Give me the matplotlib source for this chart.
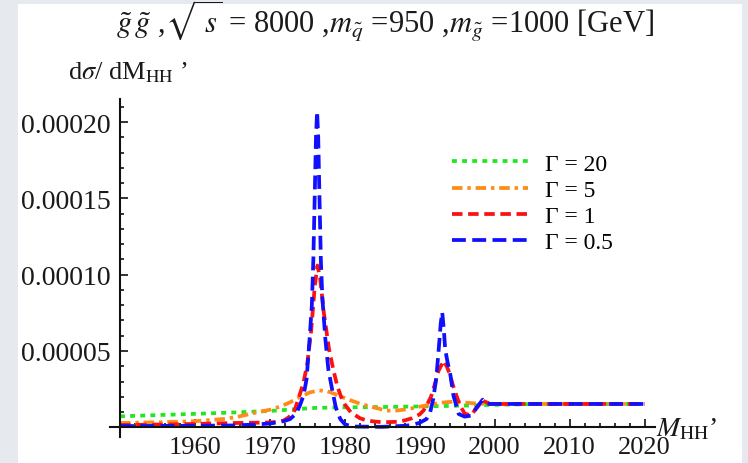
import matplotlib
matplotlib.use('Agg')
import matplotlib.pyplot as plt
from matplotlib.patches import Rectangle
from matplotlib.ticker import FixedLocator, FixedFormatter

plt.rcParams['font.family'] = ['Liberation Serif', 'DejaVu Serif']
plt.rcParams['mathtext.fontset'] = 'stix'

SCALE = 1e-5

# Gamma = 20 (green, dotted)
green_x = [1950, 1955, 1960, 1965, 1970, 1973, 1976, 1980, 1985, 1990, 1995, 2000, 2005, 2020]
green_y = [0.72, 0.80, 0.88, 0.97, 1.07, 1.17, 1.27, 1.31, 1.33, 1.37, 1.41, 1.47, 1.52, 1.53]

# Gamma = 5 (orange, dash-dot)
orange_x = [1950, 1955, 1960, 1964, 1966, 1968, 1970, 1971.5, 1972.7, 1974, 1975.3, 1976.5,
            1977.7, 1979, 1980.3, 1982, 1983.8, 1985.6, 1987, 1988.5, 1990, 1991.5, 1993,
            1994.5, 1996, 1997.5, 1999, 2020]
orange_y = [0.28, 0.33, 0.40, 0.55, 0.72, 0.95, 1.15, 1.38, 1.64, 1.98, 2.28, 2.42,
            2.36, 2.12, 1.85, 1.55, 1.31, 1.09, 1.10, 1.20, 1.35, 1.50, 1.62,
            1.68, 1.62, 1.56, 1.53, 1.53]

# Gamma = 1 (red, dashed)
red_x = [1950, 1955, 1960, 1965, 1968, 1970, 1971, 1971.8, 1972.5, 1973.2, 1973.8, 1974.5,
         1975, 1975.5, 1976, 1976.35, 1976.7, 1977.2, 1977.9, 1978.5, 1979, 1979.5, 1980,
         1980.8, 1982, 1983, 1985, 1987, 1988, 1989, 1990, 1990.5, 1991, 1991.5, 1992,
         1992.5, 1993.2, 1993.6, 1994, 1994.4, 1994.9, 1995.4, 1996, 1996.8, 1997.5,
         1998.4, 1999.4, 2020]
red_y = [0.15, 0.18, 0.22, 0.28, 0.30, 0.32, 0.36, 0.43, 0.65, 0.98, 1.85, 2.95,
         4.2, 6.3, 9.3, 10.6, 9.8, 7.5, 5.1, 3.7, 2.7, 2.0, 1.5,
         0.98, 0.60, 0.43, 0.33, 0.36, 0.45, 0.60, 0.85, 1.10, 1.50, 2.00, 2.80,
         3.70, 4.36, 4.00, 3.50, 2.80, 2.07, 1.40, 0.90, 0.78, 1.20,
         1.75, 1.53, 1.53]

# Gamma = 0.5 (blue, long dashed)
blue_x = [1950, 1960, 1965, 1968, 1970, 1971, 1972, 1972.7, 1973.5, 1974, 1974.5, 1974.9,
          1975.3, 1975.6, 1975.8, 1976.0, 1976.15, 1976.3, 1976.45, 1976.6, 1976.8, 1977.0,
          1977.4, 1977.8, 1978.3, 1978.8, 1979.4, 1980, 1981, 1985, 1988, 1989, 1990,
          1990.9, 1991.4, 1991.8, 1992.2, 1992.5, 1992.8, 1993.0, 1993.2, 1993.4, 1993.7,
          1994.1, 1994.5, 1995.2, 1996.0, 1996.8, 1997.6, 1998.4, 1999.0, 1999.4, 2020]
blue_y = [0.08, 0.10, 0.12, 0.18, 0.25, 0.32, 0.42, 0.54, 0.90, 1.42, 2.10, 3.17,
          5.8, 8.0, 11.0, 15.5, 19.0, 20.7, 19.0, 15.5, 11.0, 8.5,
          5.8, 3.8, 2.5, 1.3, 0.54, 0.20, 0.05, 0.03, 0.10, 0.15, 0.30,
          0.54, 1.00, 1.85, 3.20, 4.90, 6.80, 7.54, 6.50, 5.10, 4.30,
          3.40, 2.07, 0.87, 0.70, 0.76, 1.30, 1.81, 1.55, 1.53, 1.53]

labels = ['\u0393 = 20', '\u0393 = 5', '\u0393 = 1', '\u0393 = 0.5']
x_tick_values = [1960, 1970, 1980, 1990, 2000, 2010, 2020]
x_tick_labels = ['1960', '1970', '1980', '1990', '2000', '2010', '2020']
y_tick_values = [0.00005, 0.00010, 0.00015, 0.00020]
y_tick_labels = ['0.00005', '0.00010', '0.00015', '0.00020']

W, H = 748, 464
fig = plt.figure(figsize=(W / 100, H / 100), dpi=100)
fig.patch.set_facecolor('#e6eaee')
fig.patches.append(Rectangle((18 / W, 0), (742 - 18) / W, (H - 5) / H,
                             transform=fig.transFigure, facecolor='white',
                             edgecolor='none', zorder=-5))

ax = fig.add_axes([110 / W, (H - 438.3) / H, 545 / W, 338.3 / H])
ax.patch.set_alpha(0)

lw = 2.7
ax.plot(green_x, [v * SCALE for v in green_y], color='#22e622', lw=lw,
        linestyle=(0, (1.3, 1.4)), label=labels[0])
ax.plot(orange_x, [v * SCALE for v in orange_y], color='#ff8c1a', lw=lw,
        linestyle=(0, (2.8, 1.3, 0.9, 1.3)), label=labels[1])
ax.plot(red_x, [v * SCALE for v in red_y], color='#ff1010', lw=lw,
        linestyle=(0, (2.8, 1.5)), label=labels[2])
ax.plot(blue_x, [v * SCALE for v in blue_y], color='#1010ff', lw=lw,
        linestyle=(0, (3.7, 1.7)), label=labels[3])

ax.set_xlim(1948.66, 2021.4)
ax.set_ylim(-0.655e-5, 2.151e-4)

for s in ['top', 'right']:
    ax.spines[s].set_visible(False)
ax.spines['left'].set_position(('data', 1950))
ax.spines['bottom'].set_position(('data', 0))
for s in ['left', 'bottom']:
    ax.spines[s].set_linewidth(1.5)
    ax.spines[s].set_color('#111111')

ax.xaxis.set_major_locator(FixedLocator(x_tick_values))
ax.xaxis.set_major_formatter(FixedFormatter(x_tick_labels))
ax.xaxis.set_minor_locator(FixedLocator([v for v in range(1952, 2021, 2) if v % 10]))
ax.yaxis.set_major_locator(FixedLocator(y_tick_values))
ax.yaxis.set_major_formatter(FixedFormatter(y_tick_labels))
ax.yaxis.set_minor_locator(FixedLocator([k * 1e-5 for k in range(1, 22) if k % 5]))

ax.tick_params(which='both', direction='in', color='#111111', width=1.2,
               labelcolor='#1a1a1a')
ax.tick_params(which='major', length=5.5)
ax.tick_params(which='minor', length=3)
ax.tick_params(axis='x', which='major', pad=6, labelsize=19)
ax.tick_params(axis='y', which='major', pad=7, labelsize=20)

ax.legend(loc='upper left', bbox_to_anchor=(452 / W, 1 - 154 / H),
          bbox_transform=fig.transFigure, frameon=False, fontsize=17,
          handlelength=3.2, handletextpad=0.75, labelspacing=0.2,
          borderpad=0, borderaxespad=0)

fig.text(385 / W, 1 - 33 / H,
         r'$\tilde{g}\,\tilde{g}$ ,$\sqrt{\ s}$ = 8000 ,$m_{\tilde{q}}$ =950 ,$m_{\tilde{g}}$ =1000 [GeV]',
         ha='center', va='baseline', fontsize=22, color='#1a1a1a')
fig.text(68 / W, 1 - 79 / H, r'd$\sigma$/ dM$_{\mathrm{HH}}$' + ' \u2019',
         ha='left', va='baseline', fontsize=19, color='#1a1a1a')
fig.text(656 / W, 1 - 436 / H, r'$M_{\mathrm{HH}}$' + '\u2019',
         ha='left', va='baseline', fontsize=20, color='#1a1a1a')

fig.savefig('out.png', dpi=100, facecolor=fig.get_facecolor())
